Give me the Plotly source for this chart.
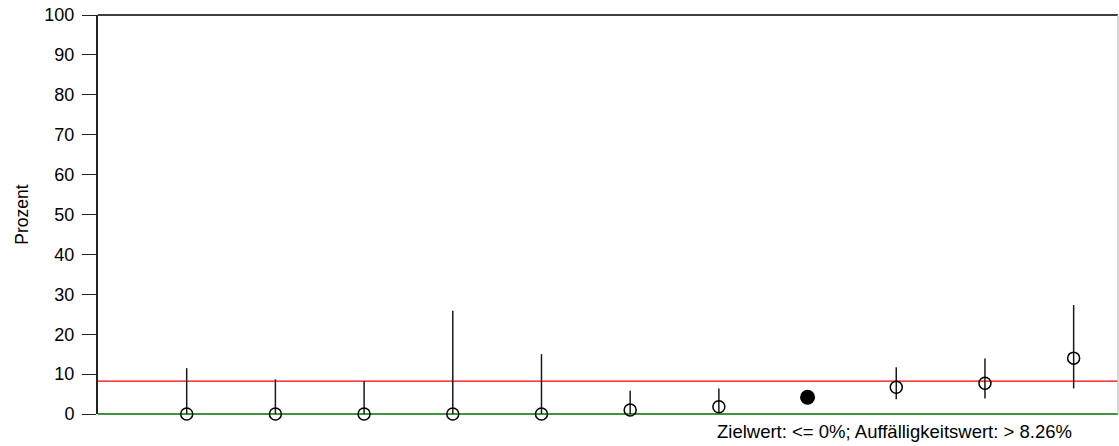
import plotly.graph_objects as go

categories = [1, 2, 3, 4, 5, 6, 7, 8, 9, 10, 11]
values = [0, 0, 0, 0, 0, 1.0, 1.8, 4.2, 6.7, 7.7, 14.0]
upper = [11.5, 8.7, 8.2, 25.9, 15.0, 5.8, 6.4, 4.2, 11.7, 13.9, 27.3]
lower = [0, 0, 0, 0, 0, 0, 0.4, 4.2, 3.7, 3.9, 6.4]
highlight = [False, False, False, False, False, False, False, True, False, False, False]
y_ticks = [0, 10, 20, 30, 40, 50, 60, 70, 80, 90, 100]
x_range = [0, 11.5]
y_range = [0, 100]
target = 0
threshold = 8.26
note = "Zielwert: <= 0%; Auffälligkeitswert: > 8.26%"

ox = [c for c, h in zip(categories, highlight) if not h]
oy = [v for v, h in zip(values, highlight) if not h]
oup = [u - v for u, v, h in zip(upper, values, highlight) if not h]
olo = [v - l for l, v, h in zip(lower, values, highlight) if not h]
fx = [c for c, h in zip(categories, highlight) if h]
fy = [v for v, h in zip(values, highlight) if h]


def to_paper(v):
    return (v - y_range[0]) / (y_range[1] - y_range[0])


fig = go.Figure()
fig.add_shape(type="line", xref="paper", yref="paper", x0=0, x1=1,
              y0=to_paper(y_range[1]), y1=to_paper(y_range[1]),
              line=dict(color="black", width=1.3))
fig.add_shape(type="line", xref="paper", yref="paper", x0=1, x1=1, y0=0, y1=1,
              line=dict(color="#c8c8c8", width=1.5))
fig.add_shape(type="line", xref="paper", yref="paper", x0=0, x1=1,
              y0=to_paper(threshold), y1=to_paper(threshold),
              line=dict(color="#ff0000", width=1.2), layer="below")
fig.add_shape(type="line", xref="paper", yref="paper", x0=0, x1=1,
              y0=to_paper(target), y1=to_paper(target),
              line=dict(color="#007000", width=1.4), layer="below")

fig.add_trace(go.Scatter(
    x=ox, y=oy, mode="markers",
    marker=dict(symbol="circle-open", size=12, color="black", line=dict(width=1.5)),
    error_y=dict(type="data", symmetric=False, array=oup, arrayminus=olo,
                 color="#1a1a1a", thickness=1.5, width=0),
    cliponaxis=False, showlegend=False))
fig.add_trace(go.Scatter(
    x=fx, y=fy, mode="markers",
    marker=dict(symbol="circle", size=15, color="black"),
    cliponaxis=False, showlegend=False))

fig.add_annotation(text=note, xref="paper", yref="paper", x=0.957, y=0,
                   xanchor="right", yanchor="top", yshift=-5, showarrow=False,
                   font=dict(size=18.5, color="black"))

fig.update_layout(
    width=1119, height=446,
    margin=dict(l=98, r=1, t=15, b=32, autoexpand=False),
    plot_bgcolor="white", paper_bgcolor="white",
    font=dict(family="Liberation Sans, Arial, sans-serif", size=18, color="black"),
    xaxis=dict(range=x_range, showgrid=False, zeroline=False, showticklabels=False,
               ticks="", showline=False, fixedrange=True),
    yaxis=dict(range=y_range, tickvals=y_ticks, showgrid=False, zeroline=False,
               showline=True, linecolor="#222222", linewidth=2,
               ticks="outside", ticklen=14, tickwidth=1.3, tickcolor="#222222",
               tickfont=dict(size=18), ticklabelstandoff=4,
               title=dict(text="Prozent", font=dict(size=17.5), standoff=11)),
)

fig.write_html("out.html", config={"displayModeBar": False},
               post_script="document.body.style.margin='0';")
